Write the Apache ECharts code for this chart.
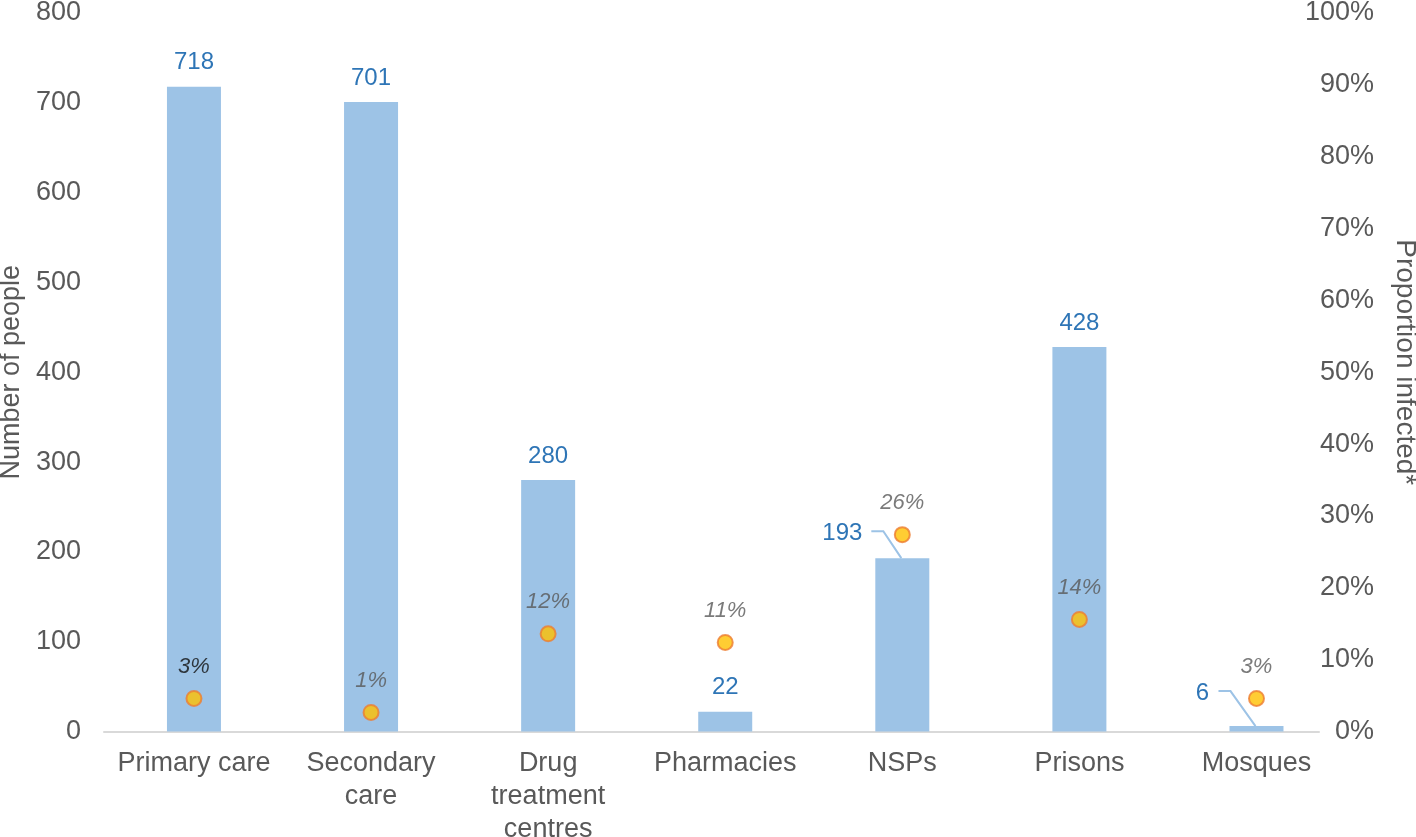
<!DOCTYPE html>
<html>
<head>
<meta charset="utf-8">
<script src="https://cdn.jsdelivr.net/npm/echarts@6/dist/echarts.min.js"></script>
<style>
html,body{margin:0;padding:0;background:#fff;}
#chart{width:1416px;height:837px;}
</style>
</head>
<body>
<div id="chart"></div>
<script>
// ---- data ----
var categories = ['Primary care', 'Secondary\ncare', 'Drug\ntreatment\ncentres', 'Pharmacies', 'NSPs', 'Prisons', 'Mosques'];
var peopleCounts = [718, 701, 280, 22, 193, 428, 6];
var proportionPositions = [4.6, 2.65, 13.6, 12.4, 27.4, 15.6, 4.6];
// printed labels next to the markers
var proportionLabels = ['3%', '1%', '12%', '11%', '26%', '14%', '3%'];
var leftTicks = { min: 0, max: 800, interval: 100 };
var rightTicks = { min: 0, max: 100, interval: 10 };

var FONT = 'Liberation Sans, Arial, sans-serif';
var chart = echarts.init(document.getElementById('chart'));

var idx = categories.map(function (c, i) { return i; });

var barData = peopleCounts.map(function (v, i) { return { value: [i, v] }; });

var dotData = proportionPositions.map(function (v, i) {
  var item = { value: [i, v], label: { formatter: proportionLabels[i] } };
  if (i === 0) item.label.color = '#111111';
  return item;
});

// labels moved aside with a leader line (bar index -> label shift)
var movedLabels = { 4: { dx: -60, dy: -1, lx: -31, bx: -19, ly: -27 }, 6: { dx: -54, dy: -9, lx: -38, bx: -26, ly: -35 } };

var option = {
  animation: false,
  grid: { left: 104, right: 97, top: 13, bottom: 105.5, containLabel: false, outerBoundsMode: 'none' },
  xAxis: {
    type: 'value',
    min: -0.508,
    max: 6.353,
    splitLine: { show: false },
    axisTick: { show: false },
    axisLine: { show: true, lineStyle: { color: '#d9d9d9', width: 2 } },
    axisLabel: {
      customValues: idx,
      formatter: function (v) { return categories[Math.round(v)]; },
      fontFamily: FONT, fontSize: 27, color: '#595959', lineHeight: 33, margin: 16
    }
  },
  yAxis: [
    {
      type: 'value', min: leftTicks.min, max: leftTicks.max, interval: leftTicks.interval,
      name: 'Number of people', nameLocation: 'middle', nameGap: 78,
      nameTextStyle: { fontFamily: FONT, fontSize: 27, color: '#595959' },
      axisLine: { show: false }, axisTick: { show: false }, splitLine: { show: false },
      axisLabel: { fontFamily: FONT, fontSize: 27, color: '#595959', margin: 23 }
    },
    {
      type: 'value', min: rightTicks.min, max: rightTicks.max, interval: rightTicks.interval,
      position: 'right',
      name: 'Proportion infected*', nameLocation: 'middle', nameGap: 72, nameRotate: -90,
      nameTextStyle: { fontFamily: FONT, fontSize: 28, color: '#595959', padding: [0, 20, 0, 0] },
      axisLine: { show: false }, axisTick: { show: false }, splitLine: { show: false },
      axisLabel: { fontFamily: FONT, fontSize: 27, color: '#595959', margin: 55, align: 'right',
        formatter: '{value}%' }
    }
  ],
  series: [
    {
      type: 'bar',
      yAxisIndex: 0,
      barWidth: 54,
      data: barData,
      itemStyle: { color: '#9DC3E6' },
      label: {
        show: true, position: 'top', distance: 12,
        fontFamily: FONT, fontSize: 24, color: '#2E75B6',
        formatter: function (p) { return p.value[1]; }
      },
      labelLayout: function (p) {
        var m = movedLabels[p.dataIndex];
        return m ? { dx: m.dx, dy: m.dy } : {};
      }
    },
    {
      type: 'scatter',
      yAxisIndex: 1,
      symbol: 'circle',
      symbolSize: 15,
      data: dotData,
      itemStyle: { color: '#FFC000', borderColor: '#ED7D31', borderWidth: 2 },
      label: {
        show: true, position: 'top', distance: 12,
        fontFamily: FONT, fontSize: 22, fontStyle: 'italic', color: '#595959'
      },
      z: 5
    }
  ]
};
chart.setOption(option);

// leader lines from the moved labels to their bar tops, located via the axes
var lines = Object.keys(movedLabels).map(function (k) {
  var i = +k, m = movedLabels[k];
  var p = chart.convertToPixel({ xAxisIndex: 0, yAxisIndex: 0 }, [i, peopleCounts[i]]);
  return {
    type: 'polyline', silent: true, z: 3,
    shape: { points: [[p[0] + m.lx, p[1] + m.ly], [p[0] + m.bx, p[1] + m.ly], [p[0] - 1, p[1]]] },
    style: { stroke: '#9DC3E6', lineWidth: 2, fill: null }
  };
});
chart.setOption({ graphic: lines });
</script>
</body>
</html>
